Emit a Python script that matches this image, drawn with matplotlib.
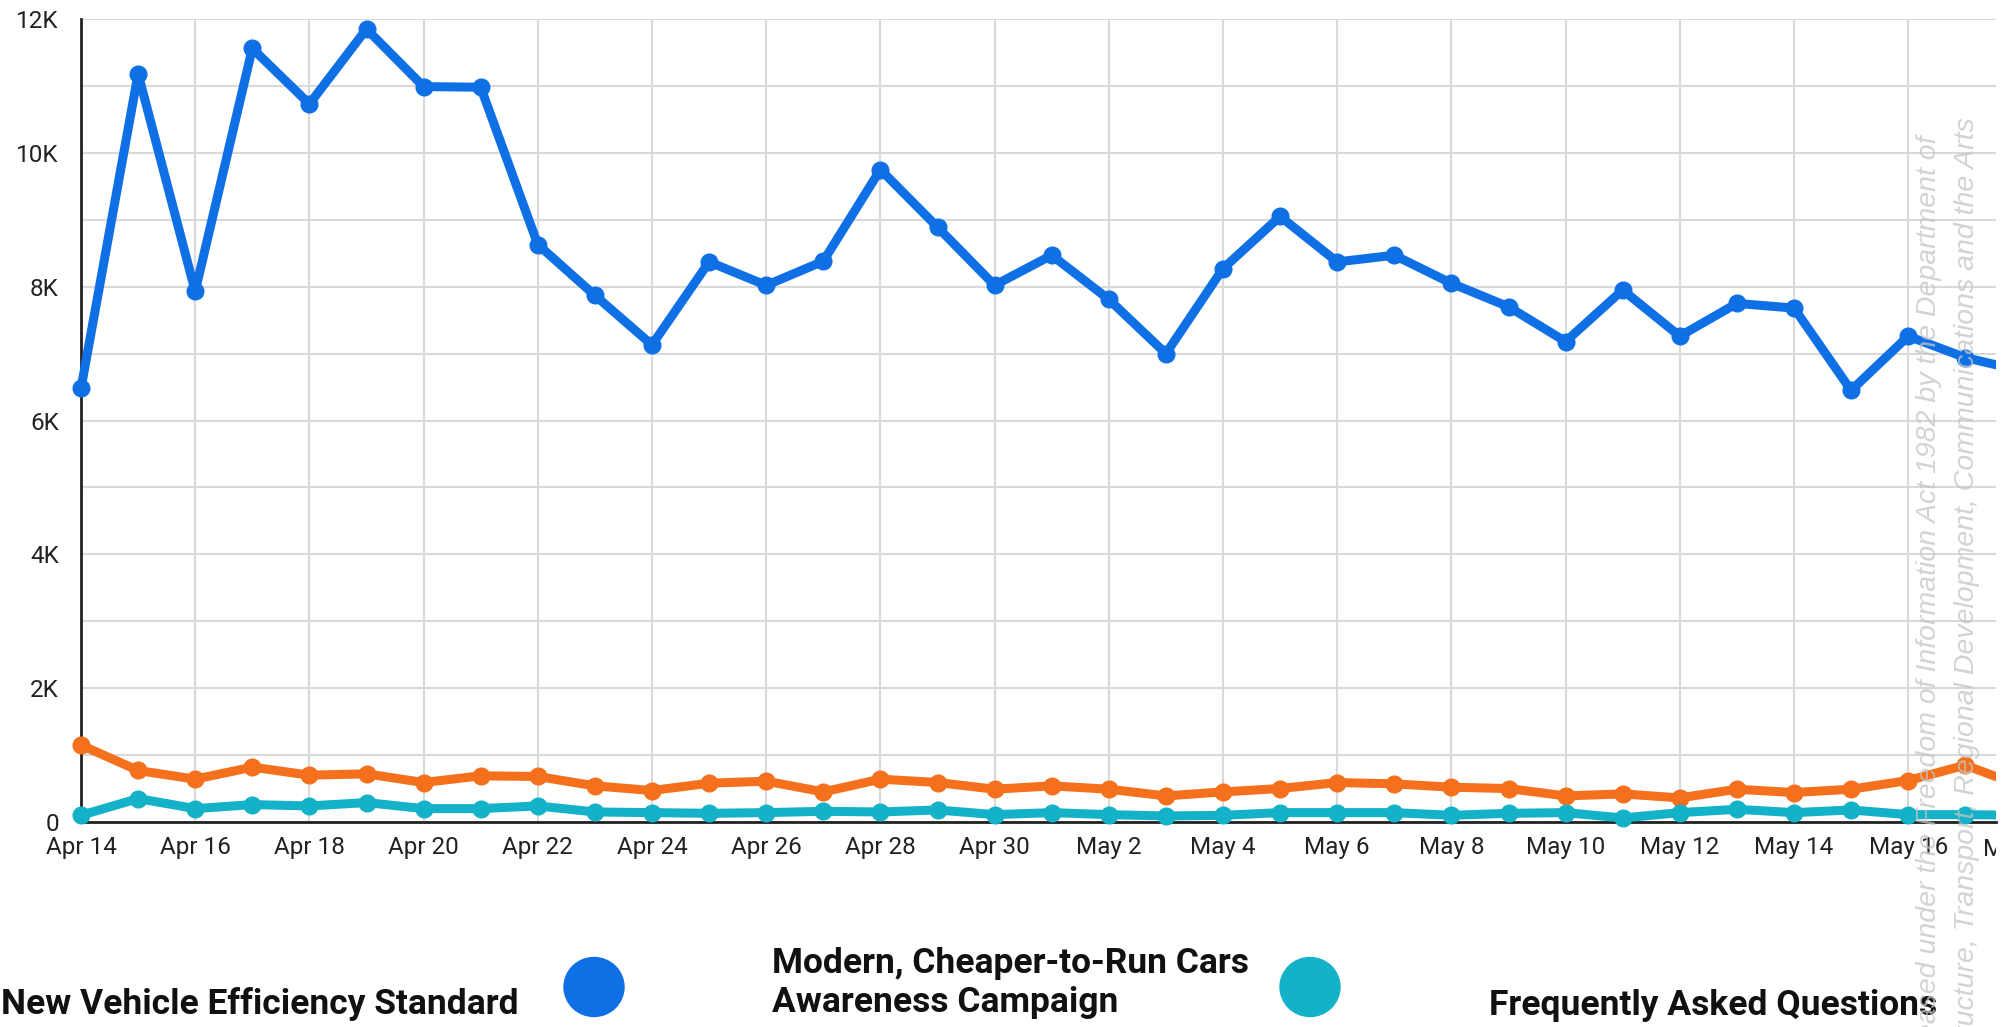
import datetime as dt

import matplotlib
matplotlib.use("Agg")
import matplotlib.pyplot as plt
import matplotlib.dates as mdates
from matplotlib.ticker import FuncFormatter, MultipleLocator
from matplotlib.transforms import Bbox, TransformedBbox, blended_transform_factory
from matplotlib.patches import Ellipse

# daily page views, Apr 14 - May 18
start = dt.date(2024, 4, 14)
days = [start + dt.timedelta(days=i) for i in range(35)]

efficiency_standard = [
    6480, 11180, 7930, 11560, 10730, 11850, 10990, 10980, 8630, 7870,
    7130, 8370, 8020, 8380, 9750, 8890, 8020, 8470, 7810, 7000,
    8270, 9050, 8370, 8470, 8050, 7700, 7180, 7950, 7260, 7750,
    7680, 6450, 7260, 6940, 6740,
]
awareness_campaign = [
    1150, 770, 640, 820, 700, 720, 590, 690, 680, 540,
    470, 580, 610, 450, 640, 590, 490, 540, 490, 390,
    450, 500, 590, 570, 520, 500, 390, 420, 360, 490,
    440, 490, 620, 850, 530,
]
faq = [
    100, 350, 200, 260, 240, 290, 200, 200, 240, 150,
    140, 130, 140, 160, 150, 180, 110, 140, 110, 90,
    100, 140, 140, 140, 100, 130, 140, 60, 140, 190,
    140, 180, 110, 110, 100,
]

series_names = [
    "New Vehicle Efficiency Standard",
    "Modern, Cheaper-to-Run Cars\nAwareness Campaign",
    "Frequently Asked Questions",
]
colors = ["#0f70e6", "#f5701c", "#14b2c8"]

W, H = 2015, 1027
fig = plt.figure(figsize=(W / 100, H / 100), dpi=100)
fig.patch.set_facecolor("white")

left, right, bottom, top = 81, 1996, 822, 19
ax = fig.add_axes([left / W, 1 - bottom / H, (right - left) / W, (bottom - top) / H])

clip = TransformedBbox(Bbox.from_extents(0, 0, right / W, 1), fig.transFigure)

for vals, c in zip([efficiency_standard, awareness_campaign, faq], colors):
    ln, = ax.plot(days, vals, color=c, lw=6.5, marker="o", markersize=12,
                  solid_joinstyle="round", zorder=3)
    ln.set_clip_path(None)
    ln.set_clip_box(clip)

# the view stops part way through the last day
x0 = mdates.date2num(start)
ax.set_xlim(x0, x0 + (right - left) / 57.1)
ax.set_ylim(0, 12000)

# grid and axes
tick_font = 17.5
ax.yaxis.set_major_locator(MultipleLocator(2000))
ax.yaxis.set_minor_locator(MultipleLocator(1000))
ax.yaxis.set_major_formatter(FuncFormatter(lambda v, p: "0" if v == 0 else f"{int(v / 1000)}K"))
ax.set_xticks(days[::2])
ax.xaxis.set_major_formatter(mdates.DateFormatter("%b %-d"))
ax.grid(True, which="both", color="#d9d9d9", lw=1.5)
ax.set_axisbelow(True)
for s in ["top", "right"]:
    ax.spines[s].set_visible(False)
for s in ["left", "bottom"]:
    ax.spines[s].set_color("#222222")
    ax.spines[s].set_linewidth(2)
ax.tick_params(which="both", length=0)
ax.tick_params(axis="y", pad=16, labelsize=tick_font, labelcolor="#222222")
ax.tick_params(axis="x", pad=10, labelsize=tick_font, labelcolor="#222222")
for lab in ax.get_xticklabels() + ax.get_yticklabels():
    lab.set_fontfamily("Roboto")
ax.set_xlim(x0, x0 + (right - left) / 57.1)

# partially visible last date label at the edge
tr = blended_transform_factory(ax.transData, ax.transAxes)
t = ax.text(x0 + 34, -16 / (bottom - top), "May 18", transform=tr,
            ha="center", va="top", fontsize=tick_font, family="Roboto",
            color="#222222", clip_on=True)
t.set_clip_box(clip)

# legend row
def fx(px):
    return px / W

def fy(py):
    return 1 - py / H

leg_font = 25.5
fig.text(fx(1), fy(1004), series_names[0], ha="left", va="center",
         fontsize=leg_font, fontweight="bold", family="Roboto", color="#111111")
fig.text(fx(772), fy(983), series_names[1], ha="left", va="center",
         fontsize=leg_font, fontweight="bold", family="Roboto", color="#111111",
         linespacing=1.2)
fig.text(fx(1489), fy(1006), series_names[2], ha="left", va="center",
         fontsize=leg_font, fontweight="bold", family="Roboto", color="#111111")
for cx, c in [(594, colors[0]), (1310, colors[2])]:
    fig.add_artist(Ellipse((fx(cx), fy(987)), 60 / W, 59 / H,
                           transform=fig.transFigure, color=c))

# release stamp along the right edge
stamp = [
    ("Released under the Freedom of Information Act 1982 by the Department of", 1929, 136),
    ("Infrastructure, Transport, Regional Development, Communications and the Arts", 1967, 117),
]
for txt, sx, sy in stamp:
    fig.text(fx(sx), fy(sy), txt, rotation=90, ha="center", va="top",
             fontsize=20.5, style="italic", family="Liberation Sans",
             color="#c4c4c4", alpha=0.75, zorder=10)

fig.savefig("out.png", dpi=100)
